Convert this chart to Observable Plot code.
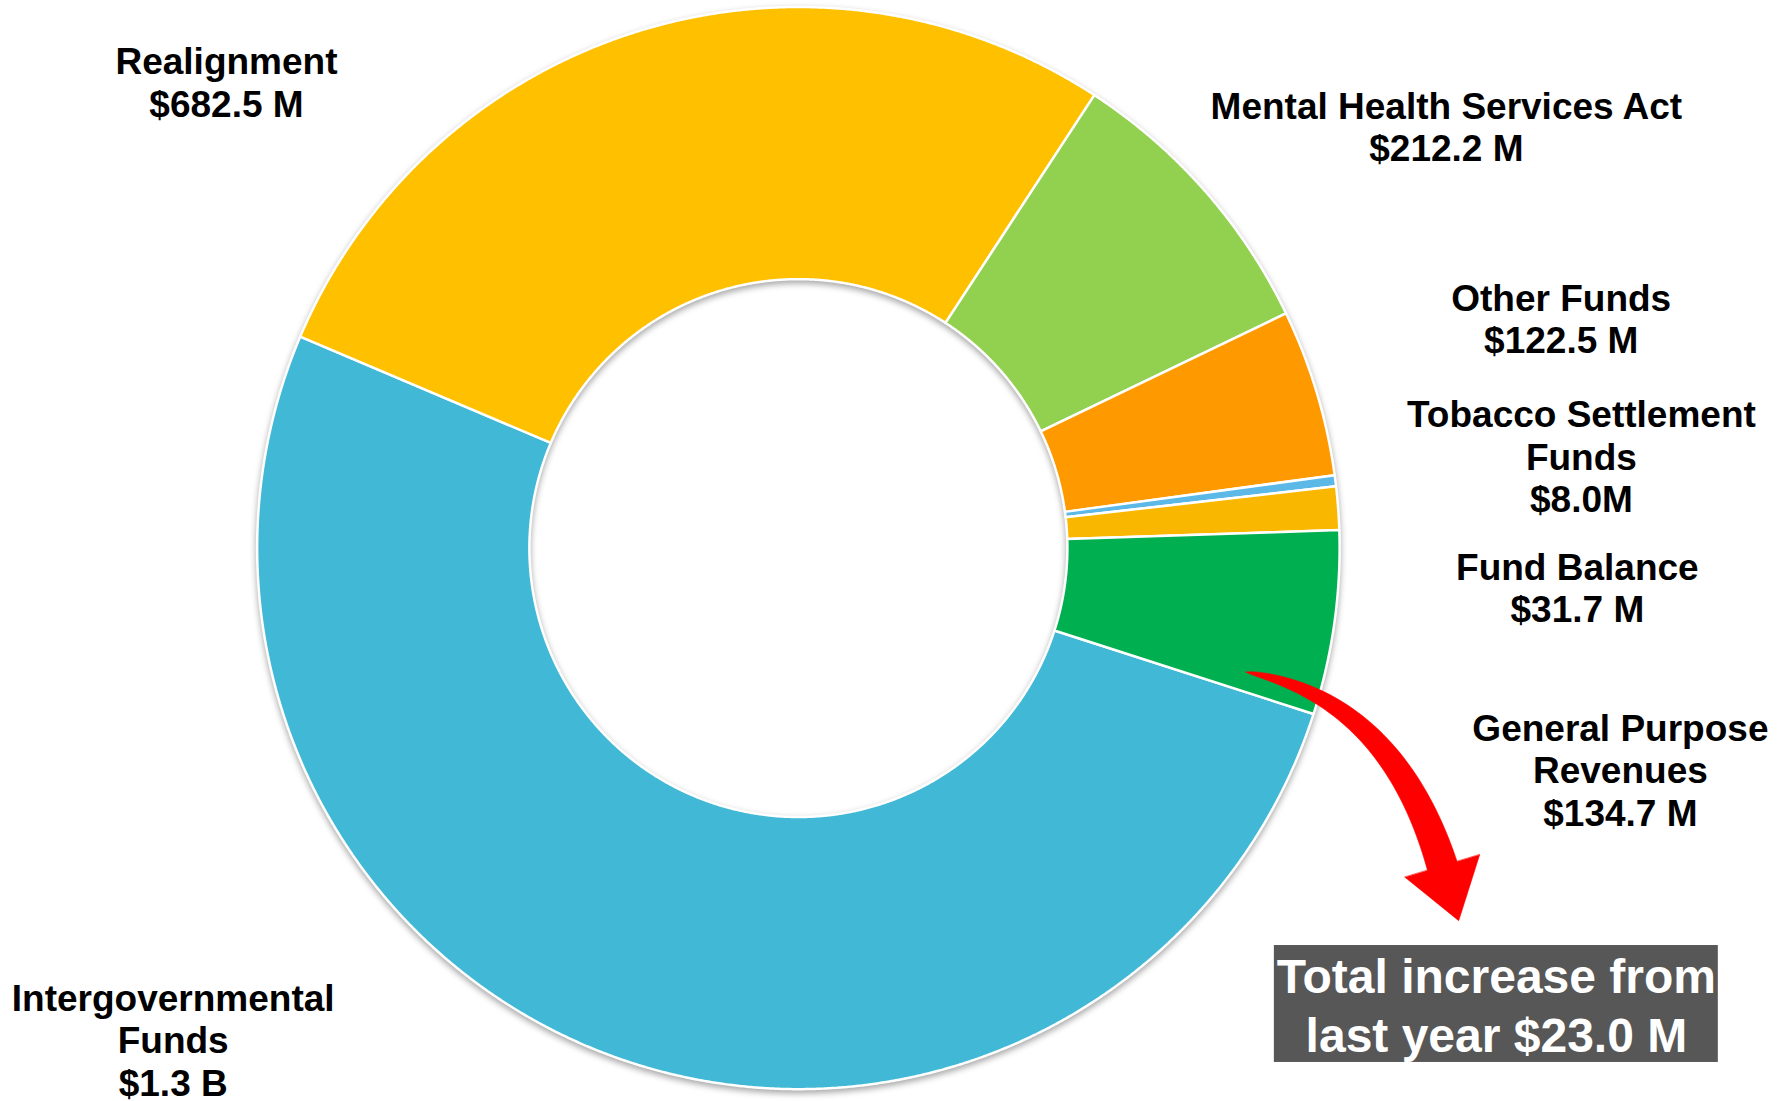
<!DOCTYPE html>
<html>
<head>
<meta charset="utf-8">
<script src="https://cdn.jsdelivr.net/npm/d3@7"></script>
<script src="https://cdn.jsdelivr.net/npm/@observablehq/plot@0.6"></script>
<style>
  html, body { margin: 0; padding: 0; background: #ffffff; overflow: hidden; }
  #chart { width: 1777px; height: 1101px; }
</style>
</head>
<body>
<div id="chart"></div>
<script>
// ---------- data ----------
const categories = [
  "Intergovernmental Funds",
  "Realignment",
  "Mental Health Services Act",
  "Other Funds",
  "Tobacco Settlement Funds",
  "Fund Balance",
  "General Purpose Revenues"
];
const values = [1262, 682.5, 212.2, 122.5, 8.0, 31.7, 134.7]; // $ millions
const valueLabels = ["$1.3 B", "$682.5 M", "$212.2 M", "$122.5 M", "$8.0M", "$31.7 M", "$134.7 M"];
const nameLabels = [
  "Intergovernmental\nFunds",
  "Realignment",
  "Mental Health Services Act",
  "Other Funds",
  "Tobacco Settlement\nFunds",
  "Fund Balance",
  "General Purpose\nRevenues"
];
const sliceColors = ["#41B8D5", "#FFC000", "#92D050", "#FF9900", "#5CB8E6", "#F9B700", "#00B050"];
const annotationText = "Total increase from\nlast year $23.0 M";

// ---------- layout (units, y downward) ----------
const W = 1777, H = 1101;
const xView = [-1.484, 1.819];
const yView = [-1.019, 1.028];
const startAngleDeg = 107.85;
const outerR = 1.006;
const innerR = 0.5;
const labelX = [-1.163, -1.064, 1.2035, 1.417, 1.4545, 1.447, 1.527];
const labelY = [0.913, -0.868, -0.785, -0.428, -0.172, 0.0725, 0.411];
const boxSpec = {x1: 0.8838, x2: 1.709, y1: 0.738, y2: 0.9554, tx: 1.2965, ty: 0.8467};
const arrowSpec = {p0: [0.8318, 0.2305], p1: [1.1032, 0.2788], p2: [1.198, 0.5948],
                   shaftW: 0.0576, headHalf: 0.0725, headLen: 0.1022};

// ---------- slice geometry from values (annular sectors as areas) ----------
const a0 = startAngleDeg * Math.PI / 180;
const arcs = d3.pie().sort(null).value(d => d).startAngle(a0).endAngle(a0 + 2 * Math.PI)(values);
const slicePts = [];
arcs.forEach((a, i) => {
  const name = categories[i];
  const steps = Math.max(2, Math.ceil((a.endAngle - a.startAngle) / (0.2 * Math.PI / 180)));
  for (let k = 0; k <= steps; k++) {
    const t = a.startAngle + (a.endAngle - a.startAngle) * k / steps;
    slicePts.push({
      name,
      xi: innerR * Math.sin(t), yi: -innerR * Math.cos(t),
      xo: outerR * Math.sin(t), yo: -outerR * Math.cos(t)
    });
  }
});

// ---------- labels ----------
const labels = categories.map((c, i) => ({
  x: labelX[i], y: labelY[i], text: nameLabels[i] + "\n" + valueLabels[i]
}));

// ---------- arrow (shaft band + head triangle) ----------
function arrowShape(s) {
  const [P0, P1, P2] = [s.p0, s.p1, s.p2];
  const N = 50, pts = [];
  const bez = t => [0, 1].map(j => (1 - t) * (1 - t) * P0[j] + 2 * (1 - t) * t * P1[j] + t * t * P2[j]);
  const der = t => {
    const v = [0, 1].map(j => 2 * (1 - t) * (P1[j] - P0[j]) + 2 * t * (P2[j] - P1[j]));
    const L = Math.hypot(v[0], v[1]);
    return [v[0] / L, v[1] / L];
  };
  for (let i = 0; i <= N; i++) {
    const t = i / N, c = bez(t), d = der(t), n = [d[1], -d[0]];
    const hw = s.shaftW * Math.pow(t, 0.6) / 2;
    pts.push({part: "shaft",
      x1: c[0] - n[0] * hw, y1: c[1] - n[1] * hw,
      x2: c[0] + n[0] * hw, y2: c[1] + n[1] * hw});
  }
  const E = bez(1), d = der(1), n = [d[1], -d[0]];
  const back = 0.004;
  const B = [E[0] - d[0] * back, E[1] - d[1] * back];
  pts.push({part: "head",
    x1: B[0] - n[0] * s.headHalf, y1: B[1] - n[1] * s.headHalf,
    x2: B[0] + n[0] * s.headHalf, y2: B[1] + n[1] * s.headHalf});
  const T = [E[0] + d[0] * s.headLen, E[1] + d[1] * s.headLen];
  pts.push({part: "head", x1: T[0], y1: T[1], x2: T[0], y2: T[1]});
  return pts;
}
const arrowPts = arrowShape(arrowSpec);

// ---------- plot ----------
const font = "'Liberation Sans', Arial, Helvetica, sans-serif";
const chart = Plot.plot({
  width: W,
  height: H,
  margin: 0,
  style: {fontFamily: font, background: "#ffffff", overflow: "visible"},
  x: {domain: xView, range: [0, W], axis: null},
  y: {domain: yView, range: [0, H], axis: null},
  color: {domain: categories, range: sliceColors},
  marks: [
    Plot.area(slicePts, {
      x1: "xi", y1: "yi", x2: "xo", y2: "yo", z: "name", fill: "name",
      stroke: "#ffffff", strokeWidth: 2.5, strokeLinejoin: "round",
      curve: "linear"
    }),
    Plot.area(arrowPts, {
      x1: "x1", y1: "y1", x2: "x2", y2: "y2", z: "part",
      fill: "#FF0000", stroke: "#FF0000", strokeWidth: 0.6,
      curve: "linear"
    }),
    Plot.text(labels, {
      x: "x", y: "y", text: "text",
      fontSize: 37, fontWeight: "bold", fontFamily: font, fill: "#000000",
      lineHeight: 1.15, lineAnchor: "middle", textAnchor: "middle"
    }),
    Plot.rect([boxSpec], {x1: "x1", x2: "x2", y1: "y1", y2: "y2", fill: "#575757"}),
    Plot.text([boxSpec], {
      x: "tx", y: "ty", text: () => annotationText,
      fontSize: 48, fontWeight: "bold", fontFamily: font, fill: "#ffffff",
      lineHeight: 1.22, lineAnchor: "middle", textAnchor: "middle"
    })
  ]
});
document.getElementById("chart").appendChild(chart);
const areas = chart.querySelectorAll('g[aria-label="area"]');
if (areas.length) areas[0].style.filter = "drop-shadow(0px 3px 3px rgba(0,0,0,0.35))";
</script>
</body>
</html>
